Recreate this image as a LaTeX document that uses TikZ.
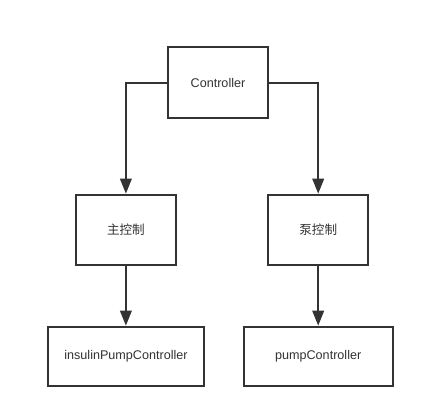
\documentclass[tikz,border=0pt]{standalone}
\usepackage{fontspec}
\setmainfont{Liberation Sans}
\newfontfamily\cjk{Noto Sans CJK SC}
\usetikzlibrary{arrows.meta}
\begin{document}
\begin{tikzpicture}[x=1pt,y=-1pt,
  box/.style={draw=black!80, line width=2pt, fill=white, inner sep=0pt, text=black!80, font=\fontsize{12.6}{14}\selectfont},
  conn/.style={draw=black!80, line width=2pt, -{Triangle[length=15pt,width=11.5pt]}}]
\useasboundingbox (0,0) rectangle (424,418);
\fill[white] (0,0) rectangle (424,418);
\node[box, minimum width=100.6pt, minimum height=70.7pt] (ctl) at (218,82.7) {Controller};
\node[box, minimum width=100.3pt, minimum height=70pt] (main) at (125.9,229.7) {\cjk 主控制};
\node[box, minimum width=100.3pt, minimum height=70pt] (pumpc) at (318.2,229.7) {\cjk 泵控制};
\node[box, minimum width=156pt, minimum height=59pt] (ins) at (126,356.2) {insulinPumpController};
\node[box, minimum width=149pt, minimum height=59pt] (pump) at (318.2,356.2) {pumpController};
\draw[conn] (ctl.west) -| (main.north);
\draw[conn] (ctl.east) -| (pumpc.north);
\draw[conn] (main.south) -- (main.south |- ins.north);
\draw[conn] (pumpc.south) -- (pumpc.south |- pump.north);
\end{tikzpicture}
\end{document}
